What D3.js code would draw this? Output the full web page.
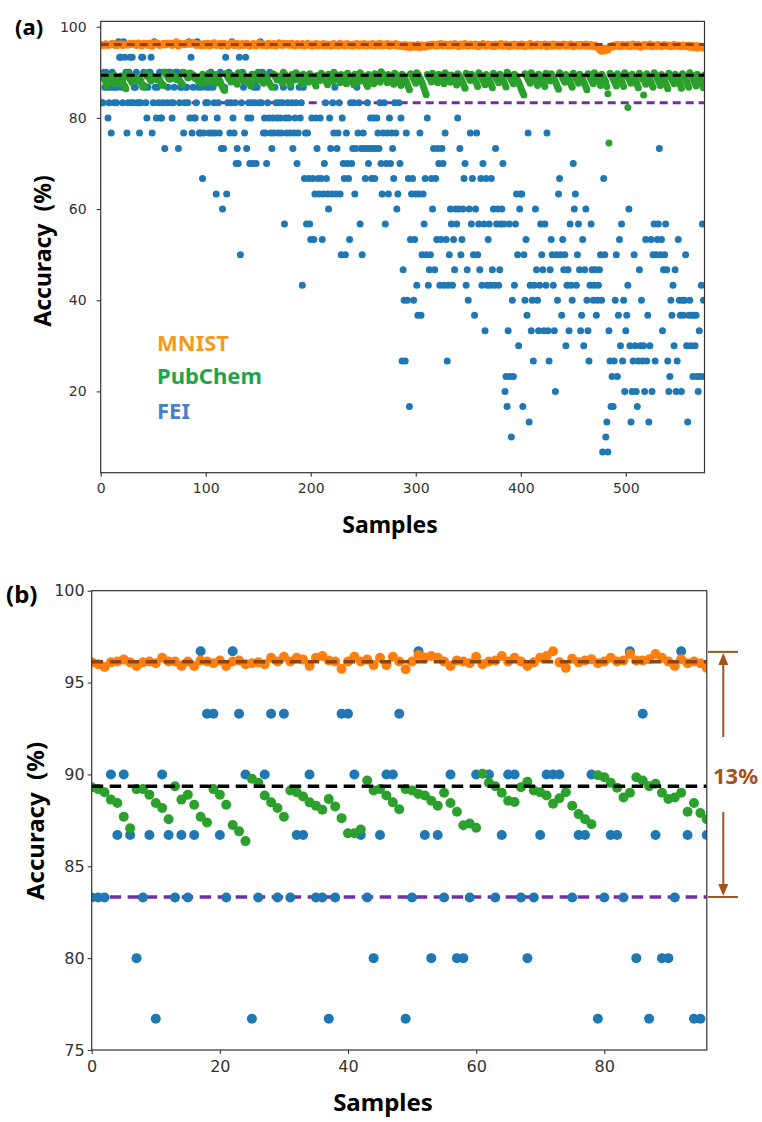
<!DOCTYPE html>
<html>
<head>
<meta charset="utf-8">
<script src="https://cdn.jsdelivr.net/npm/d3@7"></script>
<style>
  body { margin: 0; background: #fff; }
  svg { display: block; }
</style>
</head>
<body>
<svg id="chart" width="762" height="1122"></svg>
<script>

// accuracy per sample, index = sample number
const mnist = [
  96.1, 96.0, 95.85, 96.1, 96.15, 96.25, 96.1, 95.9, 96.1, 96.15,
  96.05, 96.35, 96.15, 96.15, 95.9, 96.15, 95.9, 96.2, 96.15, 96.05,
  96.2, 95.9, 96.15, 96.2, 96.0, 96.05, 96.1, 96.0, 96.35, 96.15,
  96.4, 96.15, 96.35, 96.25, 95.9, 96.35, 96.45, 96.2, 96.15, 95.75,
  96.15, 96.4, 96.15, 96.25, 95.95, 96.35, 95.95, 96.4, 96.15, 95.72,
  96.15, 96.5, 96.37, 96.45, 96.35, 96.15, 95.9, 96.2, 96.15, 96.05,
  96.4, 96.0, 96.15, 96.2, 96.45, 96.15, 96.35, 96.15, 95.9, 96.1,
  96.35, 96.45, 96.7, 96.1, 95.8, 96.3, 96.1, 96.2, 96.27, 96.05,
  96.15, 96.35, 96.15, 96.2, 96.55, 96.2, 96.2, 96.27, 96.55, 96.35,
  96.15, 95.9, 96.27, 96.05, 96.15, 96.05, 95.8,
  96.2, 96.0, 96.3, 95.9, 96.1, 96.4, 96.2, 95.8, 96.0, 96.3, 96.1, 96.5, 96.2, 95.9, 96.1, 96.0, 96.3, 96.2, 95.8, 96.1,
  96.4, 96.0, 96.2, 96.1, 95.7, 96.0, 96.3, 96.2, 96.5, 96.1, 95.9, 96.0, 96.2, 96.4, 96.1, 95.8, 96.0, 96.2, 96.3, 96.0,
  95.9, 96.1, 96.4, 96.2, 96.0, 95.7, 95.9, 96.1, 96.3, 96.0, 96.2, 95.8, 96.1, 96.3, 96.5, 96.2, 96.0, 95.9, 96.1, 96.2,
  96.0, 95.8, 96.2, 96.4, 96.1, 96.0, 95.9, 96.2, 96.3, 96.1, 95.8, 96.0, 96.2, 96.5, 96.3, 96.1, 95.9, 96.2, 96.4, 96.0,
  96.1, 96.3, 96.2, 95.9, 96.0, 96.4, 96.2, 96.1, 95.8, 96.0, 96.3, 96.2, 96.0, 95.9, 96.1, 96.3, 96.0, 95.8, 96.1, 96.2,
  96.4, 96.1, 95.9, 96.0, 96.2, 95.7, 95.9, 96.1, 96.3, 96.0, 95.8, 96.2, 96.1, 95.9, 96.0, 96.3, 96.1, 95.8, 95.9, 96.2,
  96.0, 96.1, 95.7, 96.0, 96.2, 96.3, 95.9, 96.1, 96.0, 95.8, 96.2, 96.4, 96.1, 95.9, 96.0, 96.2, 95.8, 96.1, 96.3, 96.0,
  95.9, 96.1, 96.0, 95.7, 96.2, 96.1, 95.9, 96.3, 96.0, 95.8, 96.1, 96.2, 96.0, 95.9, 96.3, 96.1, 95.8, 96.0, 96.2, 96.1,
  95.9, 96.0, 96.3, 96.1, 95.8, 96.0, 96.2, 95.9, 96.1, 96.4, 96.0, 95.8, 96.1, 96.2, 95.9, 96.0, 96.3, 96.1, 95.7, 96.0,
  96.2, 96.0, 95.9, 96.1, 96.3, 95.8, 96.0, 96.1, 95.7, 95.9, 96.0, 95.6, 95.8, 96.1, 95.5, 95.9, 95.7, 96.0, 95.4, 95.8,
  96.0, 95.6, 95.9, 95.5, 95.8, 96.1, 95.7, 95.4, 95.9, 96.0, 95.6, 95.8, 95.5, 96.0, 95.9, 95.7, 96.1, 95.8, 96.0, 96.2,
  95.9, 96.1, 96.0, 95.7, 96.2, 96.0, 95.9, 96.3, 96.1, 95.8, 96.0, 96.2, 95.9, 96.1, 95.7, 96.0, 96.2, 96.1, 95.8, 96.0,
  96.3, 96.0, 95.9, 96.1, 95.6, 95.9, 96.2, 96.0, 95.8, 96.1, 96.3, 95.9, 96.0, 95.7, 96.1, 96.2, 95.9, 96.0, 95.8, 96.1,
  96.2, 95.9, 95.6, 96.0, 96.1, 95.8, 96.0, 96.3, 95.9, 96.1, 95.7, 95.9, 96.2, 96.0, 95.8, 96.1, 95.9, 95.6, 96.0, 96.2,
  96.0, 95.8, 96.1, 95.9, 96.3, 96.0, 95.7, 95.9, 96.1, 96.2, 95.8, 96.0, 95.6, 95.9, 96.1, 96.0, 95.8, 96.2, 96.0, 95.9,
  95.7, 96.1, 96.0, 95.8, 96.2, 95.9, 96.0, 95.6, 95.9, 96.1, 95.8, 96.0, 96.3, 95.9, 95.7, 96.0, 96.1, 95.8, 96.0, 96.2,
  95.9, 96.0, 95.7, 96.1, 95.9, 96.0, 96.2, 95.8, 95.6, 96.0, 96.1, 95.9, 95.7, 96.0, 96.2, 95.8, 96.0, 95.9, 96.1, 95.7,
  96.0, 95.8, 96.1, 95.9, 96.2, 96.0, 95.7, 95.9, 96.1, 95.8, 96.0, 96.2, 95.9, 95.6, 95.9, 96.0, 95.8, 96.1, 95.9, 96.0,
  95.7, 96.1, 95.9, 96.0, 95.8, 96.2, 95.9, 95.7, 96.0, 95.8, 96.1, 95.9, 95.6, 95.9, 96.0, 95.7, 95.5, 95.3, 95.0, 94.8,
  94.6, 94.9, 95.2, 94.7, 95.0, 95.3, 94.9, 95.4, 95.6, 95.8, 95.5, 95.9, 96.0, 95.7, 95.9, 96.1, 95.8, 96.0, 95.6, 95.9,
  96.1, 95.8, 95.9, 96.0, 95.7, 96.1, 95.9, 95.6, 95.8, 96.0, 96.2, 95.9, 95.7, 96.0, 95.8, 96.1, 95.9, 95.5, 95.8, 96.0,
  95.9, 96.1, 95.7, 95.9, 96.0, 95.8, 96.2, 95.9, 95.6, 95.8, 96.0, 95.9, 95.7, 96.1, 95.8, 96.0, 95.9, 95.6, 95.8, 96.0,
  96.1, 95.8, 95.9, 95.7, 96.0, 95.9, 95.6, 95.8, 96.0, 96.1, 95.8, 95.7, 95.9, 96.0, 95.8, 95.6, 95.9, 96.0, 95.7, 95.8,
  95.9, 95.6, 95.8, 96.0, 95.5, 95.7, 95.9, 95.4, 95.8, 95.6, 95.9, 95.3, 95.7, 95.5, 95.8, 95.4, 95.6, 95.7, 95.3
];

const pubchem = [
  89.3, 89.2, 89.03, 88.63, 88.44, 87.7, 87.07, 89.2, 89.2, 88.9,
  88.44, 88.17, 87.56, 89.36, 88.63, 88.9, 88.35, 87.7, 87.38, 89.2,
  88.9, 88.35, 87.25, 86.9, 86.37, 89.76, 89.54, 88.85, 88.48, 88.17,
  87.7, 89.12, 89.03, 88.8, 88.48, 88.3, 88.08, 88.66, 88.26, 87.62,
  86.8, 86.8, 87.0, 89.67, 89.12, 89.2, 88.85, 88.48, 88.1, 89.2,
  89.12, 88.94, 88.85, 88.57, 88.3, 89.0, 88.44, 87.97, 87.23, 87.33,
  87.1, 90.04, 89.54, 89.36, 89.0, 88.57, 88.5, 89.3, 89.6, 89.12,
  89.03, 88.85, 88.4, 88.7, 89.03, 88.3, 87.84, 87.56, 87.29, 89.95,
  89.85, 89.54, 89.27, 88.75, 89.0, 89.85, 89.67, 89.36, 89.49, 89.0,
  88.66, 88.75, 89.0, 87.97, 88.44, 87.9, 87.56,
  89.6, 89.3, 88.9, 88.6, 88.2, 87.8, 89.8, 89.4, 89.1, 88.7, 88.5, 88.0, 87.6, 89.5, 89.2, 88.8, 88.3, 87.9, 87.3, 86.8,
  86.3, 86.0, 89.7, 89.5, 89.0, 88.6, 88.4, 87.9, 89.4, 89.1, 88.8, 88.2, 87.7, 87.4, 89.9, 89.6, 89.2, 88.9, 88.5, 88.1,
  89.3, 89.0, 88.6, 88.3, 87.9, 87.5, 87.0, 89.6, 89.4, 88.9, 88.6, 88.1, 89.8, 89.5, 89.2, 88.8, 88.4, 88.0, 87.6, 89.4,
  89.1, 88.7, 88.4, 87.9, 87.5, 87.1, 86.7, 89.7, 89.5, 89.1, 88.8, 88.3, 89.2, 88.9, 88.5, 88.1, 87.6, 90.0, 89.7, 89.3,
  88.8, 88.4, 88.1, 87.7, 87.2, 89.5, 89.2, 88.7, 88.3, 89.9, 89.6, 89.2, 88.9, 88.4, 87.9, 87.4, 89.6, 89.3, 88.9, 88.6,
  88.2, 87.8, 89.7, 89.4, 89.0, 88.5, 88.1, 87.5, 87.0, 89.3, 89.1, 88.6, 88.2, 89.8, 89.5, 89.1, 88.7, 88.3, 87.8, 87.3,
  89.6, 89.3, 88.9, 88.5, 88.0, 90.0, 89.7, 89.4, 89.0, 88.6, 88.2, 87.7, 89.5, 89.2, 88.8, 88.4, 87.9, 87.5, 89.8, 89.4,
  89.1, 88.7, 88.2, 87.8, 87.3, 89.6, 89.2, 88.9, 88.5, 88.0, 89.9, 89.6, 89.3, 88.8, 88.4, 87.9, 87.4, 86.9, 89.5, 89.2,
  88.9, 88.4, 88.0, 87.5, 89.7, 89.4, 89.0, 88.7, 88.3, 87.8, 90.1, 89.8, 89.4, 89.1, 88.6, 88.2, 87.7, 89.5, 89.1, 88.8,
  88.3, 87.9, 87.4, 89.8, 89.5, 89.1, 88.7, 88.2, 87.6, 87.1, 89.6, 89.3, 88.9, 88.4, 88.0, 87.4, 86.8, 86.2, 89.7, 89.4,
  89.0, 88.6, 88.1, 87.6, 89.9, 89.5, 89.2, 88.7, 88.3, 87.7, 87.1, 86.4, 85.7, 85.1, 89.5, 89.2, 88.8, 88.4, 87.9, 89.8,
  89.5, 89.1, 88.6, 88.2, 87.7, 89.6, 89.3, 88.9, 88.5, 88.0, 87.5, 89.9, 89.6, 89.2, 88.8, 88.3, 87.8, 89.4, 89.1, 88.7,
  88.2, 87.8, 87.2, 89.7, 89.4, 89.0, 88.6, 88.1, 87.6, 87.0, 86.5, 89.8, 89.5, 89.1, 88.7, 88.2, 89.6, 89.3, 88.9, 88.4,
  88.0, 87.5, 86.9, 89.9, 89.5, 89.2, 88.8, 88.3, 87.9, 87.3, 89.5, 89.2, 88.7, 88.3, 87.8, 87.2, 86.6, 89.8, 89.4, 89.1,
  88.6, 88.2, 87.7, 89.6, 89.3, 88.9, 88.4, 88.0, 87.4, 86.8, 90.0, 89.7, 89.3, 88.9, 88.4, 88.0, 87.5, 89.6, 89.2, 88.8,
  88.3, 87.8, 87.2, 86.6, 86.0, 85.5, 85.0, 89.7, 89.4, 89.0, 88.5, 88.1, 87.6, 89.9, 89.5, 89.1, 88.7, 88.2, 87.7, 87.1,
  89.6, 89.3, 88.9, 88.4, 88.0, 87.5, 86.9, 89.8, 89.4, 89.0, 88.6, 88.1, 89.7, 89.3, 88.9, 88.5, 88.0, 87.4, 86.8, 86.3,
  89.9, 89.6, 89.2, 88.7, 88.3, 87.8, 89.5, 89.2, 88.8, 88.3, 87.9, 87.3, 86.7, 89.8, 89.4, 89.0, 88.6, 88.1, 87.6, 89.6,
  89.3, 88.9, 88.4, 87.9, 87.4, 86.8, 86.2, 89.7, 89.4, 89.0, 88.5, 88.0, 87.5, 89.9, 89.5, 89.1, 88.7, 88.2, 87.7, 87.1,
  89.6, 89.2, 88.8, 88.3, 87.8, 86.9, 85.3, 74.5, 89.8, 89.4, 89.0, 88.6, 88.1, 87.6, 87.0, 89.7, 89.3, 88.9, 88.4, 88.0,
  87.5, 86.9, 89.9, 89.5, 89.1, 82.3, 88.6, 88.1, 87.6, 89.6, 89.2, 88.8, 88.3, 87.8, 87.2, 86.6, 89.8, 89.4, 89.0, 88.5,
  85.0, 88.0, 87.4, 89.7, 89.3, 88.9, 88.4, 87.9, 87.3, 86.7, 89.9, 89.6, 89.2, 88.7, 88.2, 87.7, 87.1, 89.5, 89.1, 88.7,
  88.2, 87.6, 87.0, 86.4, 89.8, 89.4, 89.0, 88.5, 88.0, 87.5, 89.6, 89.2, 88.8, 88.3, 87.8, 87.2, 86.5, 89.7, 89.3, 88.9,
  88.4, 87.9, 87.3, 86.7, 89.9, 89.5, 89.1, 88.6, 88.1, 87.6, 87.0, 89.6, 89.2, 88.7, 88.3, 87.8, 87.2, 86.6, 89.4
];

const fei = [
  83.3, 83.3, 83.3, 90, 86.7, 90, 86.7, 80, 83.3, 86.7,
  76.7, 90, 86.7, 83.3, 86.7, 83.3, 86.7, 96.7, 93.3, 93.3,
  86.7, 83.3, 96.7, 93.3, 90, 76.7, 83.3, 90, 93.3, 83.3,
  93.3, 83.3, 86.7, 86.7, 90, 83.3, 83.3, 76.7, 83.3, 93.3,
  93.3, 90, 86.7, 83.3, 80, 86.7, 90, 90, 93.3, 76.7,
  83.3, 96.7, 86.7, 80, 86.7, 83.3, 90, 80, 80, 83.3,
  90, 73.3, 90, 83.3, 86.7, 90, 90, 83.3, 80, 83.3,
  86.7, 90, 90, 90, 73.3, 83.3, 86.7, 86.7, 90, 76.7,
  83.3, 86.7, 86.7, 83.3, 96.7, 80, 93.3, 76.7, 86.7, 80,
  80, 83.3, 96.7, 86.7, 76.7, 76.7, 86.7,
  66.7, 76.7, 80, 83.3, 86.7, 83.3, 76.7, 86.7, 90, 76.7,
  86.7, 83.3, 76.7, 63.3, 80, 83.3, 76.7, 90, 73.3, 60,
  73.3, 86.7, 93.3, 63.3, 83.3, 90, 76.7, 83.3, 96.7, 80,
  76.7, 83.3, 70, 73.3, 70, 93.3, 50, 83.3, 90, 86.7,
  76.7, 93.3, 73.3, 80, 83.3, 70, 80, 83.3, 70, 86.7,
  83.3, 70, 86.7, 90, 83.3, 96.7, 83.3, 90, 76.7, 80,
  76.7, 70, 83.3, 80, 90, 76.7, 73.3, 80, 76.7, 86.7,
  83.3, 80, 76.7, 83.3, 80, 76.7, 83.3, 86.7, 56.7, 80,
  76.7, 83.3, 80, 76.7, 86.7, 83.3, 73.3, 76.7, 80, 83.3,
  70, 76.7, 86.7, 80, 83.3, 43.3, 86.7, 66.7, 76.7, 56.7,
  76.7, 66.7, 56.7, 53.3, 80, 66.7, 53.3, 63.3, 80, 73.3,
  66.7, 63.3, 80, 66.7, 53.3, 63.3, 70, 83.3, 66.7, 63.3,
  60, 80, 73.3, 63.3, 83.3, 76.7, 86.7, 63.3, 73.3, 76.7,
  83.3, 63.3, 50, 80, 70, 66.7, 50, 76.7, 70, 66.7,
  53.3, 83.3, 70, 73.3, 83.3, 63.3, 73.3, 86.7, 76.7, 83.3,
  56.7, 73.3, 50, 76.7, 73.3, 66.7, 73.3, 83.3, 70, 73.3,
  80, 66.7, 73.3, 80, 66.7, 73.3, 80, 76.7, 73.3, 83.3,
  70, 63.3, 76.7, 83.3, 56.7, 70, 76.7, 63.3, 80, 70,
  76.7, 73.3, 66.7, 83.3, 76.7, 60, 63.3, 83.3, 70, 80,
  26.7, 46.7, 40, 26.7, 76.7, 40, 66.7, 16.7, 53.3, 63.3,
  66.7, 40, 53.3, 63.3, 43.3, 36.7, 63.3, 76.7, 36.7, 50,
  63.3, 56.7, 66.7, 50, 80, 43.3, 46.7, 50, 66.7, 60,
  73.3, 46.7, 66.7, 53.3, 73.3, 70, 43.3, 53.3, 73.3, 70,
  43.3, 76.7, 53.3, 26.7, 43.3, 50, 60, 56.7, 43.3, 53.3,
  46.7, 60, 56.7, 80, 60, 73.3, 50, 53.3, 60, 66.7,
  70, 43.3, 46.7, 40, 60, 76.7, 56.7, 66.7, 50, 36.7,
  60, 76.7, 50, 56.7, 46.7, 66.7, 43.3, 70, 56.7, 33.3,
  66.7, 43.3, 53.3, 56.7, 43.3, 66.7, 46.7, 60, 43.3, 73.3,
  56.7, 60, 43.3, 46.7, 56.7, 60, 70, 56.7, 20, 23.3,
  16.7, 33.3, 56.7, 23.3, 10, 40, 23.3, 43.3, 56.7, 63.3,
  50, 30, 60, 63.3, 63.3, 16.7, 50, 40, 53.3, 36.7,
  76.7, 13.3, 43.3, 33.3, 40, 26.7, 43.3, 60, 46.7, 40,
  33.3, 43.3, 56.7, 50, 46.7, 33.3, 56.7, 43.3, 76.7, 33.3,
  26.7, 46.7, 53.3, 50, 43.3, 33.3, 20, 50, 40, 63.3,
  66.7, 50, 36.7, 53.3, 46.7, 50, 30, 43.3, 46.7, 33.3,
  56.7, 43.3, 40, 70, 60, 63.3, 43.3, 50, 56.7, 46.7,
  33.3, 36.7, 53.3, 30, 46.7, 60, 40, 33.3, 26.7, 43.3,
  56.7, 46.7, 40, 43.3, 46.7, 36.7, 40, 43.3, 46.7, 50,
  40, 6.7, 66.7, 50, 10, 13.3, 6.7, 33.3, 26.7, 16.7,
  23.3, 16.7, 26.7, 40, 50, 23.3, 36.7, 53.3, 30, 56.7,
  26.7, 40, 20, 33.3, 36.7, 43.3, 60, 30, 13.3, 20,
  26.7, 50, 30, 20, 16.7, 26.7, 46.7, 30, 40, 26.7,
  30, 20, 53.3, 26.7, 36.7, 13.3, 30, 53.3, 20, 50,
  56.7, 26.7, 50, 53.3, 56.7, 73.3, 50, 53.3, 33.3, 46.7,
  50, 56.7, 46.7, 26.7, 20, 23.3, 40, 36.7, 43.3, 30,
  46.7, 20, 26.7, 53.3, 40, 36.7, 20, 40, 36.7, 40,
  50, 30, 13.3, 36.7, 40, 30, 36.7, 23.3, 36.7, 30,
  36.7, 23.3, 20, 33.3, 23.3, 43.3, 56.7, 40, 23.3
];

// dashed reference levels: MNIST, PubChem, FEI
const refLevels = [96.13, 89.35, 83.33];

// bracket in panel (b)
const gapRange = [96.67, 83.33];
const gapLabel = "13%";

const seriesNames = ["MNIST", "PubChem", "FEI"];
const zoomSamples = 97;   // panel (b) shows the first samples

const ticksAx = [0, 100, 200, 300, 400, 500];
const ticksAy = [20, 40, 60, 80, 100];
const ticksBx = [0, 20, 40, 60, 80];
const ticksBy = [75, 80, 85, 90, 95, 100];

// ---- styles ----
const colors = { mnist: "#ff7f0e", pubchem: "#2ca02c", fei: "#1f77b4" };
const refColors = ["#8f4512", "#000000", "#7030a0"];
const legendColors = ["#f39a1e", "#1ea54a", "#4a80c4"];
const bracketColor = "#a3521b";
const titleFont = "'Noto Sans', 'DejaVu Sans', sans-serif";
const tickFont = "'DejaVu Sans', sans-serif";

const svg = d3.select("#chart");
svg.append("rect").attr("width", 762).attr("height", 1122).attr("fill", "#fff");

function drawPanel(p) {
	const x = d3.scaleLinear()
				.domain(p.xDomain)
				.range([p.left, p.right]);
	const y = d3.scaleLinear()
				.domain(p.yDomain)
				.range([p.bottom, p.top]);

	const g = svg.append("g").attr("class", "panel-" + p.id);

	g.append("clipPath")
		.attr("id", "clip-" + p.id)
		.append("rect")
		.attr("x", p.left)
		.attr("y", p.top)
		.attr("width", p.right - p.left)
		.attr("height", p.bottom - p.top);

	const plot = g.append("g").attr("clip-path", `url(#clip-${p.id})`);

	const refLine = (i) => plot.append("line")
		.attr("x1", x(p.xDomain[0]))
		.attr("x2", x(p.xDomain[1]))
		.attr("y1", y(refLevels[i]))
		.attr("y2", y(refLevels[i]))
		.attr("stroke", refColors[i])
		.attr("stroke-width", p.lineWidth)
		.attr("stroke-dasharray", p.dash);

	refLine(2);

	const dots = (data, cls, color) => plot.append("g")
		.attr("class", cls)
		.selectAll("circle")
		.data(data.slice(0, p.n))
		.join("circle")
		.attr("cx", (d, i) => x(i))
		.attr("cy", d => y(d))
		.attr("r", p.r)
		.attr("fill", color);

	dots(fei, "fei", colors.fei);
	dots(mnist, "mnist", colors.mnist);
	dots(pubchem, "pubchem", colors.pubchem);

	refLine(0);
	refLine(1);

	// axes
	const axisX = g.append("g")
		.attr("transform", `translate(0,${p.bottom})`)
		.call(d3.axisBottom(x).tickValues(p.xTicks).tickSize(4).tickPadding(p.xPad));
	const axisY = g.append("g")
		.attr("transform", `translate(${p.left},0)`)
		.call(d3.axisLeft(y).tickValues(p.yTicks).tickSize(4).tickPadding(p.yPad));

	[axisX, axisY].forEach(a => {
		a.select(".domain").remove();
		a.selectAll("line").attr("stroke", "#333").attr("stroke-width", 1.1);
		a.selectAll("text")
			.attr("fill", "#333")
			.style("font-family", tickFont)
			.style("font-size", p.tickSize + "px");
	});

	g.append("rect")
		.attr("x", p.left)
		.attr("y", p.top)
		.attr("width", p.right - p.left)
		.attr("height", p.bottom - p.top)
		.attr("fill", "none")
		.attr("stroke", "#333")
		.attr("stroke-width", 1.2);

	// titles
	g.append("text")
		.attr("x", p.tagX)
		.attr("y", p.tagY)
		.style("font-family", titleFont)
		.style("font-weight", 700)
		.style("font-size", p.tagSize + "px")
		.text(p.tag);

	g.append("text")
		.attr("x", p.xTitleX)
		.attr("y", p.xTitleY)
		.attr("text-anchor", "middle")
		.style("font-family", titleFont)
		.style("font-weight", 700)
		.style("font-size", p.titleSize + "px")
		.text("Samples");

	g.append("text")
		.attr("transform", `translate(${p.yTitleX},${p.yTitleY}) rotate(-90)`)
		.attr("text-anchor", "middle")
		.style("font-family", titleFont)
		.style("font-weight", 700)
		.style("font-size", p.titleSize + "px")
		.text("Accuracy\u00a0 (%)");

	return { x, y, g };
}

const panelA = drawPanel({
	id: "a", tag: "(a)", tagX: 15, tagY: 35, tagSize: 22,
	left: 100.7, right: 704.5, top: 21.4, bottom: 472.7,
	xDomain: [0, 575], yDomain: [2.17, 101.17],
	xTicks: ticksAx, yTicks: ticksAy, xPad: 6, yPad: 10,
	n: mnist.length, r: 3.5, lineWidth: 3, dash: "8,5",
	tickSize: 14, titleSize: 23,
	xTitleX: 390, xTitleY: 533, yTitleX: 51, yTitleY: 251
});

const panelB = drawPanel({
	id: "b", tag: "(b)", tagX: 6, tagY: 603, tagSize: 24,
	left: 91.7, right: 706.8, top: 590.7, bottom: 1050,
	xDomain: [0, 96], yDomain: [75, 100],
	xTicks: ticksBx, yTicks: ticksBy, xPad: 7, yPad: 3,
	n: zoomSamples, r: 5, lineWidth: 3.5, dash: "11.5,6.5",
	tickSize: 16, titleSize: 24,
	xTitleX: 383, xTitleY: 1111, yTitleX: 44, yTitleY: 821
});

// legend in panel (a)
panelA.g.append("g")
	.selectAll("text")
	.data(seriesNames)
	.join("text")
	.attr("x", 157)
	.attr("y", (d, i) => [350.7, 383.5, 419][i])
	.attr("fill", (d, i) => legendColors[i])
	.style("font-family", titleFont)
	.style("font-weight", 700)
	.style("font-size", "22px")
	.text(d => d);

// gap bracket next to panel (b)
const yb = panelB.y;
const bx = 723.3;
const br = panelB.g.append("g")
	.attr("stroke", bracketColor)
	.attr("fill", bracketColor)
	.attr("stroke-width", 2);

gapRange.forEach(v => {
	br.append("line")
		.attr("x1", 708).attr("x2", 738)
		.attr("y1", yb(v)).attr("y2", yb(v));
});

br.append("line")
	.attr("x1", bx).attr("x2", bx)
	.attr("y1", 737).attr("y2", yb(gapRange[0]) + 10);
br.append("path")
	.attr("stroke", "none")
	.attr("d", `M${bx},${yb(gapRange[0]) + 1} L${bx - 5},${yb(gapRange[0]) + 13} L${bx + 5},${yb(gapRange[0]) + 13} Z`);

br.append("line")
	.attr("x1", bx).attr("x2", bx)
	.attr("y1", 812).attr("y2", yb(gapRange[1]) - 10);
br.append("path")
	.attr("stroke", "none")
	.attr("d", `M${bx},${yb(gapRange[1]) - 1} L${bx - 5},${yb(gapRange[1]) - 13} L${bx + 5},${yb(gapRange[1]) - 13} Z`);

panelB.g.append("text")
	.attr("x", 713)
	.attr("y", 784)
	.attr("fill", bracketColor)
	.style("font-family", titleFont)
	.style("font-weight", 700)
	.style("font-size", "22px")
	.text(gapLabel);

</script>
</body>
</html>
